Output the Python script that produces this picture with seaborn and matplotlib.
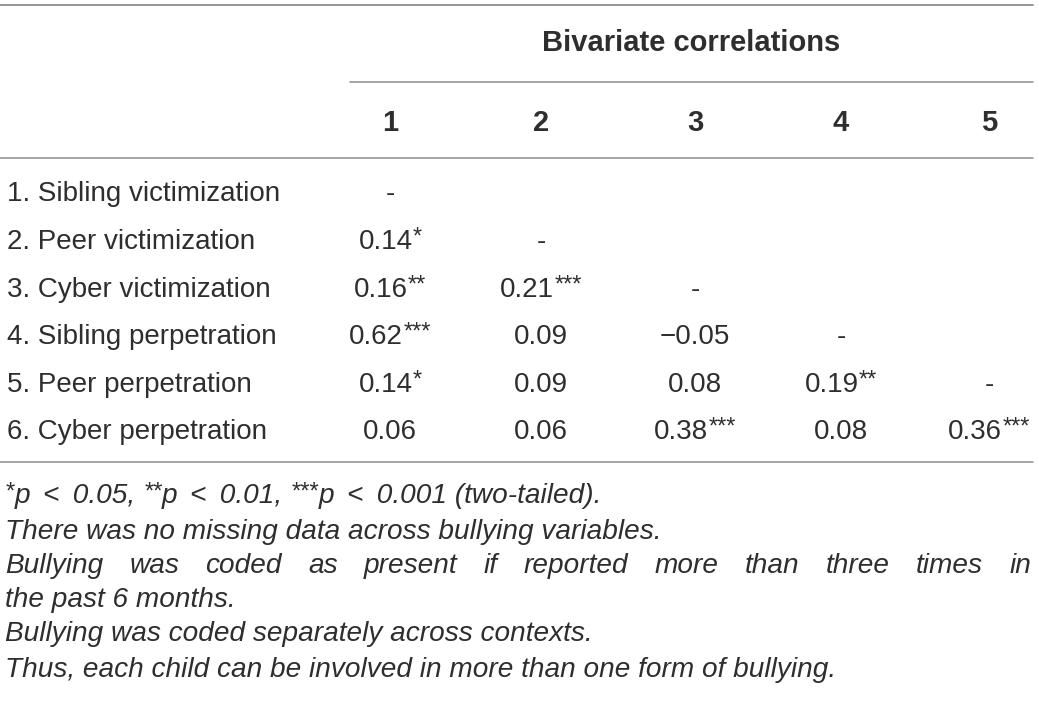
import matplotlib
matplotlib.use('Agg')
import matplotlib.pyplot as plt
import seaborn as sns

# 表格数据
col_title = 'Bivariate correlations'
col_labels = ['1', '2', '3', '4', '5']
row_labels = [
    '1. Sibling victimization',
    '2. Peer victimization',
    '3. Cyber victimization',
    '4. Sibling perpetration',
    '5. Peer perpetration',
    '6. Cyber perpetration',
]
coef = [
    ['-', '', '', '', ''],
    ['0.14', '-', '', '', ''],
    ['0.16', '0.21', '-', '', ''],
    ['0.62', '0.09', '\u22120.05', '-', ''],
    ['0.14', '0.09', '0.08', '0.19', '-'],
    ['0.06', '0.06', '0.38', '0.08', '0.36'],
]
stars = [
    ['', '', '', '', ''],
    ['*', '', '', '', ''],
    ['**', '***', '', '', ''],
    ['***', '', '', '', ''],
    ['*', '', '', '**', ''],
    ['', '', '***', '', '***'],
]
sp = ' \u2009'
notes = [
    [('*', True), ('p' + sp + '<' + sp + '0.05, ', False), ('**', True),
     ('p' + sp + '<' + sp + '0.01, ', False), ('***', True),
     ('p' + sp + '<' + sp + '0.001 (two-tailed).', False)],
    'There was no missing data across bullying variables.',
    'Bullying was coded as present if reported more than three times in',
    'the past 6 months.',
    'Bullying was coded separately across contexts.',
    'Thus, each child can be involved in more than one form of bullying.',
]
justified = [False, False, True, False, False, False]

sns.set_theme(style='white')
plt.rcParams['font.family'] = ['Liberation Sans', 'DejaVu Sans']

txt = '#2e2e2e'
rule = '#8c8c8c'
fs = 20
fs_note = 20.2
fs_star = 17

fig = plt.figure(figsize=(10.39, 7.01), dpi=100)
ax = fig.add_axes([0, 0, 1, 1])
ax.set_xlim(0, 1039)
ax.set_ylim(701, 0)
ax.axis('off')
fig.canvas.draw()
renderer = fig.canvas.get_renderer()


def width_of(t):
    return t.get_window_extent(renderer).width


# 横线
ax.plot([0, 1033], [5, 5], color=rule, lw=1.3)
ax.plot([350, 1033], [82, 82], color=rule, lw=1.1)
ax.plot([0, 1033], [158, 158], color=rule, lw=1.1)
ax.plot([0, 1033], [462, 462], color=rule, lw=1.1)

# 表头
ax.text(691, 43, col_title, ha='center', va='center', fontsize=21,
        fontweight='bold', color=txt)
col_x = [390, 541, 695, 841, 989]
for x, lab in zip(col_x, col_labels):
    ax.text(x, 123, lab, ha='center', va='center', fontsize=21,
            fontweight='bold', color=txt)

# 表体
row_y = [194, 242, 290, 337, 385, 432]
for i, (y, lab) in enumerate(zip(row_y, row_labels)):
    ax.text(7, y, lab, ha='left', va='center', fontsize=fs, color=txt)
    for j, x in enumerate(col_x):
        v = coef[i][j]
        if not v:
            continue
        s = stars[i][j]
        t1 = ax.text(x, y, v, ha='left', va='center', fontsize=fs, color=txt)
        w1 = width_of(t1)
        if s:
            t2 = ax.text(x, y - 15, s, ha='left', va='top', fontsize=fs_star,
                         color=txt)
            w2 = width_of(t2)
        else:
            w2 = 0
        x0 = x - (w1 + w2) / 2
        t1.set_x(x0)
        if s:
            t2.set_x(x0 + w1)

# 注释
note_y = [496, 532, 566, 600, 634, 670]
for y, line, just in zip(note_y, notes, justified):
    if isinstance(line, list):
        x = 5
        for part, sup in line:
            if sup:
                t = ax.text(x, y - 15, part, ha='left', va='top',
                            fontsize=fs_star, style='italic', color=txt)
            else:
                t = ax.text(x, y, part, ha='left', va='center',
                            fontsize=fs_note, style='italic', color=txt)
            x += width_of(t)
        continue
    if not just:
        ax.text(5, y, line, ha='left', va='center', fontsize=fs_note,
                style='italic', color=txt)
        continue
    words = line.split(' ')
    objs = [ax.text(0, y, w, ha='left', va='center', fontsize=fs_note,
                    style='italic', color=txt) for w in words]
    widths = [width_of(o) for o in objs]
    gap = (1031 - 5 - sum(widths)) / (len(words) - 1)
    x = 5
    for o, w in zip(objs, widths):
        o.set_x(x)
        x += w + gap

fig.savefig('out.png', dpi=100)
